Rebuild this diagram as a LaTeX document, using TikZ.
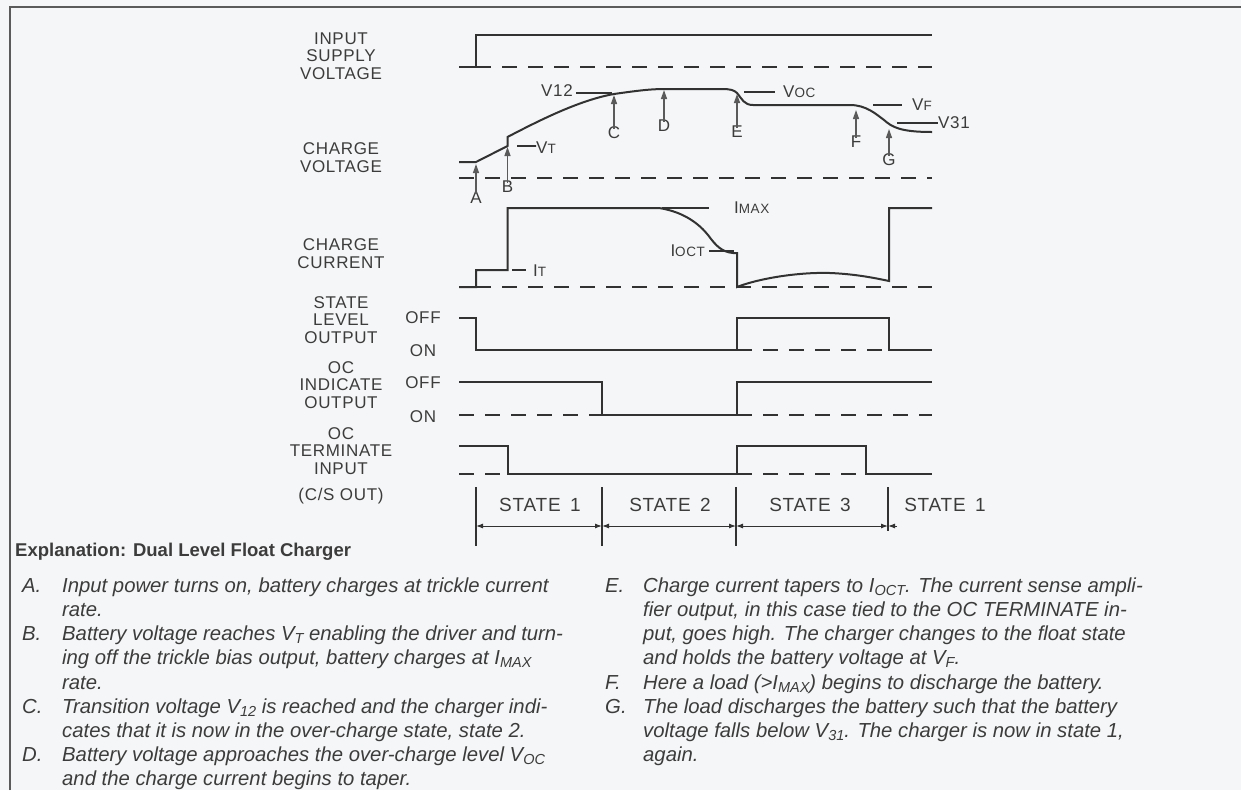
\documentclass[tikz,border=0pt]{standalone}
\usepackage{fontspec}
\setmainfont{Liberation Sans}
\newfontfamily\labf[LetterSpace=4]{Liberation Sans}
\newfontfamily\bodyf{Liberation Sans}
\usetikzlibrary{arrows.meta}
\definecolor{ink}{RGB}{50,50,50}
\definecolor{txt}{RGB}{60,60,60}
\definecolor{bgc}{RGB}{245,246,247}
\definecolor{arr}{RGB}{90,90,90}
\newcommand\dsc[1]{{\fontsize{13.5}{13.5}\selectfont #1}}
\newcommand\tsb[1]{\raisebox{-0.3ex}{\fontsize{14.5}{14.5}\selectfont #1}}
\tikzset{
  wave/.style={line width=2pt, draw=ink, line join=miter},
  base/.style={line width=1.6pt, draw=ink, dash pattern=on 15pt off 11pt},
  leader/.style={line width=1.2pt, draw=ink},
  lbl/.style={font=\labf\fontsize{17}{17.5}\selectfont, text=txt, align=center, inner sep=0pt},
  vlab/.style={font=\labf\fontsize{17}{17.5}\selectfont, text=txt, inner sep=0pt},
  stlab/.style={font=\labf\fontsize{19}{19}\selectfont, text=txt, inner sep=0pt},
  upar/.style={line width=1.3pt, draw=arr, -{Triangle[length=9pt,width=6pt]}},
  sep/.style={line width=1.2pt, draw=ink},
  span/.style={line width=1pt, draw=ink, {Latex[length=7pt,width=5pt]}-{Latex[length=7pt,width=5pt]}},
  bline/.style={font=\bodyf\itshape\fontsize{20.3}{24}\selectfont, text=txt, anchor=base west, inner sep=0pt},
  frame/.style={line width=2pt, draw=ink!80}
}
\begin{document}
\begin{tikzpicture}[x=1pt,y=-1pt]
\useasboundingbox (0,0) rectangle (1241,790);
\fill[bgc] (0,0) rectangle (1241,790);
\draw[frame] (10,790) -- (10,7) -- (1241,7);

% ---------- left labels ----------
\node[lbl] (l1) at (341,56) {INPUT\\SUPPLY\\VOLTAGE};
\node[lbl] (l2) at (341,157.5) {CHARGE\\VOLTAGE};
\node[lbl] (l3) at (341,253.5) {CHARGE\\CURRENT};
\node[lbl] (l4) at (341,320) {STATE\\LEVEL\\OUTPUT};
\node[lbl] (l5) at (341,385) {OC\\INDICATE\\OUTPUT};
\node[lbl] (l6) at (341,451) {OC\\TERMINATE\\INPUT};
\node[lbl] (l7) at (341,496) {(C/S OUT)};
\node[lbl] (off1) at (423,318) {OFF};
\node[lbl] (on1) at (423,351) {ON};
\node[lbl] (off2) at (423,383) {OFF};
\node[lbl] (on2) at (423,417) {ON};

% ---------- input supply ----------
\draw[base] (476,67) -- (932,67);
\draw[wave] (459,67) -- (476,67) -- (476,35) -- (932,35);

% ---------- charge voltage ----------
\draw[base] (459,178) -- (932,178);
\draw[wave] (459,162) -- (476,162) -- (507.5,146) -- (507.5,137)
  .. controls (540,120) and (580,100) .. (614,94)
  .. controls (635,91) and (650,89) .. (664,89) -- (722,89)
  .. controls (730,89) and (734,90) .. (737,93)
  .. controls (742,99) and (744,105) .. (753,105) -- (850,105)
  .. controls (866,105) and (876,114) .. (884,120)
  .. controls (892,127) and (900,132) .. (932,132);
\node[vlab, anchor=east] (v12) at (573,91) {V12};
\coordinate (v12e) at (612,93);
\draw[leader] (v12.east |- v12e) ++(3,0) -- (v12e);
\node[vlab, anchor=west] (vt) at (536,148) {V\dsc{T}};
\coordinate (vts) at (517,146);
\draw[leader] (vts) -- (vt.west |- vts) -- ++(-6,0);
\node[vlab, anchor=west] (voc) at (783,92) {V\dsc{OC}};
\coordinate (vocs) at (744,92);
\draw[leader] (vocs) -- ++(31,0);
\node[vlab, anchor=west] (vf) at (912,105) {V\dsc{F}};
\coordinate (vfs) at (873,105);
\draw[leader] (vfs) -- ++(29,0);
\node[vlab, anchor=west] (v31) at (938,123) {V31};
\coordinate (v31s) at (897,123);
\draw[leader] (v31s) -- (v31.west |- v31s);

% event arrows
\node[lbl] (la) at (476,198) {A};   \coordinate (ta) at (476,164);
\node[lbl] (lb) at (507.5,187) {B}; \coordinate (tb) at (507.5,147);
\node[lbl] (lc) at (614,133) {C};   \coordinate (tc) at (614,95);
\node[lbl] (ld) at (664,126) {D};   \coordinate (td) at (664,90);
\node[lbl] (le) at (737,132) {E};   \coordinate (te) at (737,94);
\node[lbl] (lf) at (856,142) {F};   \coordinate (tf) at (856,110);
\node[lbl] (lg) at (889,160) {G};   \coordinate (tg) at (889,129);
\foreach \n in {a,b,c,d,e,f,g} \draw[upar] ([yshift=-2pt]l\n.north) -- (t\n);

% ---------- charge current ----------
\draw[base] (476,287) -- (932,287);
\draw[wave] (459,287) -- (476,287) -- (476,270) -- (507.5,270) -- (507.5,208) -- (659,208)
  .. controls (685,212) and (700,225) .. (708,235)
  .. controls (716,246) and (722,252) .. (733,253) -- (737,253) -- (737,287)
  .. controls (760,278) and (800,272) .. (830,273)
  .. controls (855,274) and (875,278) .. (889,281) -- (889,208) -- (932,208);
\coordinate (imaxs) at (662,208);
\node[vlab, anchor=west] (imax) at (734,208) {I\dsc{MAX}};
\draw[leader] (imaxs) -- ++(47,0);
\coordinate (its) at (512,270);
\node[vlab, anchor=west] (it) at (533,271) {I\dsc{T}};
\draw[leader] (its) -- ++(14,0);
\node[vlab, anchor=east] (ioct) at (705,251) {I\dsc{OCT}};
\coordinate (iocte) at (734,251);
\draw[leader] (ioct.east |- iocte) ++(4,0) -- (iocte);

% ---------- state level output ----------
\draw[base] (737,350) -- (889,350);
\draw[wave] (459,318) -- (476,318) -- (476,350) -- (737,350) -- (737,318) -- (889,318) -- (889,350) -- (932,350);

% ---------- OC indicate output ----------
\draw[base] (459,415) -- (602,415);
\draw[base] (737,415) -- (932,415);
\draw[wave] (459,382) -- (602,382) -- (602,415) -- (737,415) -- (737,382) -- (932,382);

% ---------- OC terminate input ----------
\draw[base] (459,474) -- (507.5,474);
\draw[base] (737,474) -- (866,474);
\draw[wave] (459,446) -- (507.5,446) -- (507.5,474) -- (737,474) -- (737,446) -- (866,446) -- (866,474) -- (932,474);

% ---------- states ----------
\coordinate (s1t) at (476,487); \coordinate (s1b) at (476,546);
\coordinate (s2t) at (602,487); \coordinate (s2b) at (602,546);
\coordinate (s3t) at (736,487); \coordinate (s3b) at (736,546);
\coordinate (s4t) at (888,487); \coordinate (s4b) at (888,531);
\foreach \i in {1,2,3,4} \draw[sep] (s\i t) -- (s\i b);
\coordinate (a1) at (476,526); \coordinate (a2) at (602,526);
\coordinate (a3) at (736,526); \coordinate (a4) at (888,526);
\coordinate (a5) at (897,526);
\draw[span] (a1) -- (a2);
\draw[span] (a2) -- (a3);
\draw[span] (a3) -- (a4);
\draw[line width=1pt, draw=ink, -{Latex[length=7pt,width=5pt]}] (a5) -- (a4);
\node[stlab] (st1) at (540,505) {STATE\enspace1};
\node[stlab] (st2) at (670,505) {STATE\enspace2};
\node[stlab] (st3) at (810,505) {STATE\enspace3};
\node[stlab] (st4) at (945,505) {STATE\enspace1};

% ---------- explanation ----------
\node[font=\fontsize{18.5}{19}\selectfont\bfseries, text=txt, anchor=base west, inner sep=0pt] (title) at (15,556) {Explanation: Dual Level Float Charger};

\node[bline] (ka) at (22,592) {A.};
\node[bline] (ta1) at (62,592) {Input power turns on, battery charges at trickle current};
\node[bline] (ta2) at (62,616) {rate.};
\node[bline] (kb) at (22,640) {B.};
\node[bline] (tb1) at (62,640) {Battery voltage reaches V\tsb{T} enabling the driver and turn-};
\node[bline] (tb2) at (62,664.5) {ing off the trickle bias output, battery charges at I\tsb{MAX}};
\node[bline] (tb3) at (62,689) {rate.};
\node[bline] (kc) at (22,713) {C.};
\node[bline] (tc1) at (62,713) {Transition voltage V\tsb{12} is reached and the charger indi-};
\node[bline] (tc2) at (62,737) {cates that it is now in the over-charge state, state 2.};
\node[bline] (kd) at (22,761.5) {D.};
\node[bline] (td1) at (62,761.5) {Battery voltage approaches the over-charge level V\tsb{OC}};
\node[bline] (td2) at (62,785) {and the charge current begins to taper.};

\node[bline] (ke) at (605,592) {E.};
\node[bline] (te1) at (643,592) {Charge current tapers to I\tsb{OCT}. The current sense ampli-};
\node[bline] (te2) at (643,616) {fier output, in this case tied to the OC TERMINATE in-};
\node[bline] (te3) at (643,640) {put, goes high. The charger changes to the float state};
\node[bline] (te4) at (643,664.5) {and holds the battery voltage at V\tsb{F}.};
\node[bline] (kf) at (605,689) {F.};
\node[bline] (tf1) at (643,689) {Here a load (>I\tsb{MAX}) begins to discharge the battery.};
\node[bline] (kg) at (605,713) {G.};
\node[bline] (tg1) at (643,713) {The load discharges the battery such that the battery};
\node[bline] (tg2) at (643,737) {voltage falls below V\tsb{31}. The charger is now in state 1,};
\node[bline] (tg3) at (643,761.5) {again.};
\end{tikzpicture}
\end{document}
